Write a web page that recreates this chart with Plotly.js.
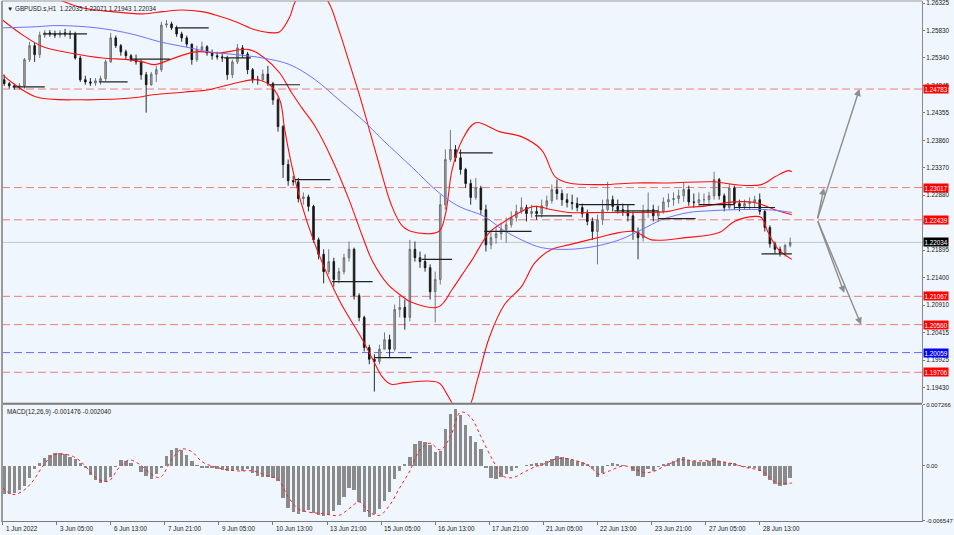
<!DOCTYPE html>
<html><head><meta charset="utf-8">
<script src="https://cdn.plot.ly/plotly-3.0.1.min.js"></script>
<style>html,body{margin:0;padding:0;background:#F0F6FD}#chart{width:954px;height:535px}</style>
</head><body><div id="chart"></div>
<script>
// ---- DATA (3-hour candles) ----
const firstOpen = 1.2495;
const highs = [1.2504,1.2491,1.2488,1.2489,1.2534,1.2563,1.2561,1.2581,1.2584,1.2584,
1.2583,1.2584,1.2586,1.2583,1.2581,1.2538,1.2502,1.2498,1.2498,1.2502,
1.2531,1.2579,1.2574,1.2559,1.2549,1.2541,1.2540,1.2531,1.2509,1.2509,
1.2520,1.2599,1.2602,1.2599,1.2592,1.2581,1.2574,1.2557,1.2556,1.2563,
1.2557,1.2549,1.2545,1.2541,1.2538,1.2531,1.2559,1.2557,1.2545,1.2516,
1.2502,1.2513,1.2520,1.2491,1.2463,1.2414,1.2352,1.2323,1.2319,1.2293,
1.2289,1.2271,1.2212,1.2191,1.2191,1.2176,1.2158,1.2183,1.2205,1.2194,
1.2112,1.2072,1.2020,1.2003,1.2020,1.2042,1.2038,1.2092,1.2108,1.2101,
1.2208,1.2205,1.2187,1.2182,1.2164,1.2151,1.2289,1.2370,1.2405,1.2378,
1.2370,1.2337,1.2316,1.2319,1.2305,1.2271,1.2223,1.2230,1.2237,1.2248,
1.2259,1.2271,1.2284,1.2271,1.2271,1.2269,1.2280,1.2287,1.2307,1.2316,
1.2298,1.2291,1.2289,1.2284,1.2273,1.2262,1.2248,1.2253,1.2280,1.2312,
1.2287,1.2280,1.2273,1.2271,1.2259,1.2230,1.2271,1.2293,1.2271,1.2269,
1.2284,1.2291,1.2293,1.2298,1.2310,1.2305,1.2291,1.2293,1.2291,1.2294,
1.2330,1.2319,1.2291,1.2309,1.2305,1.2280,1.2280,1.2284,1.2287,1.2291,
1.2262,1.2234,1.2205,1.2196,1.2201,1.2212];
const lows = [1.2484,1.2479,1.2477,1.2477,1.2479,1.2527,1.2527,1.2534,1.2570,1.2572,
1.2570,1.2570,1.2572,1.2568,1.2531,1.2491,1.2486,1.2484,1.2484,1.2486,
1.2493,1.2525,1.2552,1.2538,1.2531,1.2527,1.2522,1.2495,1.2436,1.2484,
1.2491,1.2509,1.2588,1.2584,1.2572,1.2563,1.2554,1.2522,1.2527,1.2545,
1.2538,1.2531,1.2531,1.2527,1.2495,1.2498,1.2523,1.2534,1.2505,1.2489,
1.2486,1.2491,1.2484,1.2450,1.2402,1.2319,1.2305,1.2305,1.2275,1.2271,
1.2259,1.2203,1.2173,1.2130,1.2146,1.2124,1.2130,1.2146,1.2169,1.2101,
1.2062,1.2008,1.1985,1.1936,1.1985,1.2012,1.1997,1.2008,1.2069,1.2047,
1.2062,1.2169,1.2158,1.2151,1.2101,1.2060,1.2128,1.2262,1.2348,1.2348,
1.2325,1.2301,1.2271,1.2280,1.2253,1.2187,1.2191,1.2201,1.2208,1.2203,
1.2230,1.2241,1.2255,1.2241,1.2248,1.2244,1.2248,1.2262,1.2273,1.2280,
1.2269,1.2266,1.2262,1.2259,1.2248,1.2234,1.2208,1.2164,1.2235,1.2259,
1.2259,1.2255,1.2251,1.2241,1.2208,1.2173,1.2205,1.2248,1.2241,1.2241,
1.2255,1.2266,1.2269,1.2273,1.2276,1.2269,1.2266,1.2268,1.2269,1.2271,
1.2280,1.2280,1.2259,1.2262,1.2262,1.2259,1.2262,1.2262,1.2266,1.2253,
1.2223,1.2194,1.2183,1.2178,1.2178,1.21943];
const closes = [1.2488,1.2484,1.2482,1.2484,1.2531,1.2556,1.2540,1.2575,1.2579,1.2577,
1.2575,1.2579,1.2577,1.2577,1.2534,1.2495,1.2491,1.2489,1.2493,1.2497,
1.2527,1.2570,1.2556,1.2545,1.2538,1.2531,1.2527,1.2504,1.2486,1.2505,
1.2513,1.2593,1.2595,1.2588,1.2577,1.2570,1.2559,1.2531,1.2549,1.2554,
1.2543,1.2538,1.2536,1.2534,1.2504,1.2527,1.2552,1.2541,1.2513,1.2495,
1.2495,1.2505,1.2488,1.2459,1.2411,1.2343,1.2314,1.2312,1.2282,1.2285,
1.2268,1.2208,1.2182,1.2151,1.2169,1.2137,1.2151,1.2176,1.2191,1.2108,
1.2069,1.2015,1.1994,1.1990,1.2012,1.2029,1.2012,1.2083,1.2087,1.2069,
1.2191,1.2176,1.2169,1.2158,1.2115,1.2137,1.2271,1.2352,1.2370,1.2355,
1.2334,1.2309,1.2284,1.2301,1.2262,1.2199,1.2212,1.2219,1.2226,1.2235,
1.2248,1.2259,1.2266,1.2255,1.2259,1.2255,1.2269,1.2278,1.2298,1.2291,
1.2280,1.2275,1.2273,1.2266,1.2255,1.2241,1.2223,1.2244,1.2262,1.2280,
1.2268,1.2262,1.2259,1.2251,1.2223,1.2212,1.2259,1.2262,1.2251,1.2259,
1.2276,1.2280,1.2282,1.2287,1.2298,1.2276,1.2275,1.2280,1.2280,1.2287,
1.2316,1.2287,1.2266,1.2301,1.2273,1.2268,1.2273,1.2275,1.2280,1.2259,
1.2230,1.2201,1.2191,1.2185,1.2198,1.22034];
const macdHist = [-0.0034,-0.0033,-0.0032,-0.0029,-0.0024,-0.0015,-0.0004,0.0003,0.0009,0.0013,
0.0015,0.0015,0.0014,0.0011,0.0008,0.0004,-0.0002,-0.0011,-0.0017,-0.0020,
-0.0019,-0.0013,-0.0001,0.0007,0.0006,0.0004,0.0000,-0.0007,-0.0012,-0.0016,
-0.0010,-0.0002,0.0012,0.0019,0.0021,0.0019,0.0013,0.0006,0.0001,-0.0002,
-0.0002,-0.0003,-0.0004,-0.0005,-0.0006,-0.0006,-0.0005,-0.0006,-0.0004,-0.0008,
-0.0012,-0.0013,-0.0013,-0.0015,-0.0018,-0.0038,-0.0050,-0.0055,-0.0057,-0.0055,
-0.0053,-0.0056,-0.0059,-0.0060,-0.0059,-0.0054,-0.0047,-0.0037,-0.0026,-0.0029,
-0.0043,-0.0055,-0.0061,-0.0057,-0.0051,-0.0042,-0.0031,-0.0016,-0.0006,0.0002,
0.0011,0.0026,0.0030,0.0028,0.0025,0.0016,0.0018,0.0044,0.0062,0.0068,
0.0061,0.0049,0.0036,0.0028,0.0020,-0.0003,-0.0015,-0.0016,-0.0013,-0.0010,
-0.0006,-0.0003,0.0000,0.0001,0.0002,0.0003,0.0004,0.0006,0.0008,0.0012,
0.0011,0.0009,0.0007,0.0006,0.0005,0.0002,-0.0004,-0.0013,-0.0009,0.0001,
0.0003,0.0002,0.0001,0.0000,-0.0006,-0.0012,-0.0013,-0.0004,-0.0006,-0.0001,
0.0002,0.0004,0.0006,0.0009,0.0010,0.0007,0.0006,0.0005,0.0005,0.0006,
0.0009,0.0006,0.0005,0.0004,0.0003,0.0001,-0.0001,-0.0002,-0.0003,-0.0006,
-0.0012,-0.0017,-0.0022,-0.0024,-0.0023,-0.001476];
const sigIdx = [0,6,12,18,24,30,36,42,48,54,59,63,69,75,81,87,93,100,106,112,118,127,139,148,157,163,169,175,181,190,199,205,211,217,223,229,235,241,247,253,259,265,271,277,283,290,296,302,308,314,320,329,338,347,353,359,368,380,386,392,401,410,422,431,440,449,458,467];
const sigVal = [-0.0026,-0.0034,-0.0030,-0.0018,0.0000,0.0013,0.0014,0.0011,0.0002,-0.0012,-0.0018,-0.0018,-0.0002,0.0007,0.0002,-0.0008,-0.0014,0.0007,0.0020,0.0017,0.0005,-0.0002,-0.0006,-0.0006,-0.0012,-0.0016,-0.0037,-0.0051,-0.0055,-0.0057,-0.0059,-0.0051,-0.0043,-0.0055,-0.0059,-0.0047,-0.0026,-0.0006,0.0019,0.0027,0.0019,0.0035,0.0064,0.0058,0.0035,0.0007,-0.0012,-0.0014,-0.0008,-0.0002,0.0002,0.0009,0.0007,0.0000,-0.0010,-0.0006,0.0000,-0.0008,-0.0006,0.0000,0.0007,0.0006,0.0006,0.0003,-0.0002,-0.0006,-0.0020,-0.00204];
// Bollinger bands and moving average (bar index, price)
const midIdx = [0,12,24,40,59,74,83,90,99,114,128,146,155,164,171,177,185,195,205,213,219,228,235,242,258,266,272,278,288,297,307,315,325,335,355,374,394,404,414,433,445,457,467];
const midVal = [1.2602,1.2575,1.2554,1.2543,1.2534,1.2531,1.2527,1.2522,1.2531,1.2545,1.2543,1.2549,1.2534,1.2507,1.2472,1.2445,1.2411,1.2352,1.2280,1.2214,1.2169,1.2128,1.2110,1.2096,1.2088,1.2119,1.2146,1.2173,1.2221,1.2241,1.2259,1.2268,1.2262,1.2257,1.2257,1.2257,1.2259,1.2266,1.2268,1.2276,1.2275,1.2262,1.2253];
const lowIdx = [0,6,20,47,79,89,108,122,138,150,158,164,167,171,177,185,199,213,219,225,230,238,258,263,269,275,281,288,297,307,315,325,335,355,365,374,384,404,424,433,445,449,453,459,467];
const lowVal = [1.2504,1.2489,1.2464,1.2459,1.2463,1.2468,1.2473,1.2477,1.2489,1.2495,1.2486,1.2459,1.2405,1.2343,1.2271,1.2199,1.2101,1.2029,1.1994,1.1961,1.1949,1.1952,1.1952,1.1931,1.1904,1.1904,1.1958,1.2033,1.2092,1.2124,1.2167,1.2191,1.2199,1.2214,1.2221,1.2223,1.2208,1.2212,1.2221,1.2241,1.2250,1.2248,1.2221,1.2191,1.2173];
const upIdx = [0,18,34,47,65,83,95,106,118,126,138,150,160,164,170,173,177,185,192,199,205,212,222,230,236,242,258,262,266,272,280,294,307,319,327,335,355,374,394,421,433,449,457,465,467];
const upVal = [1.2701,1.2665,1.2638,1.2624,1.2617,1.2613,1.2617,1.2620,1.2617,1.2611,1.2599,1.2584,1.2579,1.2581,1.2608,1.2634,1.2647,1.2652,1.2638,1.2584,1.2527,1.2459,1.2352,1.2271,1.2235,1.2223,1.2223,1.2253,1.2334,1.2387,1.2418,1.2402,1.2393,1.2369,1.2321,1.2310,1.2307,1.2310,1.2310,1.2312,1.2307,1.2307,1.2321,1.2332,1.2330];
const maIdx = [0,20,31,49,65,79,93,111,122,138,154,170,185,199,213,225,242,258,270,285,296,307,319,335,350,365,378,390,406,418,433,453,467];
const maVal = [1.2588,1.2590,1.2592,1.2590,1.2584,1.2575,1.2563,1.2552,1.2545,1.2540,1.2534,1.2522,1.2495,1.2459,1.2423,1.2387,1.2339,1.2293,1.2268,1.2250,1.2226,1.2208,1.2194,1.2191,1.2196,1.2208,1.2226,1.2244,1.2257,1.2260,1.2262,1.2262,1.2257];
// short horizontal black segments
const segStart = [6,24,57,76,102,131,158,173,195,220,248,270,285,315,341,362,388,412,433,449];
const segEnd   = [25,50,74,99,122,147,176,194,219,242,266,290,313,337,374,388,410,433,457,467];
const segPrice = [1.2482,1.2577,1.2491,1.2532,1.2588,1.2534,1.2486,1.2316,1.2133,1.1997,1.2173,1.2364,1.2223,1.2251,1.2271,1.2260,1.2246,1.2271,1.2266,1.2183];
// levels
const redLevels = [1.24783,1.23017,1.22439,1.21067,1.20560,1.19706];
const blueLevels = [1.20059];
const lastPrice = 1.22034;
// projection arrows: start and targets (bar index, price)
const arrowStart = [482, 1.22439];
const arrowMid = [[486, 1.2301],[498, 1.2113]];
const arrowEnd = [[507, 1.24783],[508, 1.20560]];
// axis ticks
const timeTickIdx = [0,32,64,96,128,160,192,224,256,288,320,352,384,416,448];
const timeLabels = ["1 Jun 2022","3 Jun 05:00","6 Jun 13:00","7 Jun 21:00","9 Jun 05:00","10 Jun 13:00","13 Jun 21:00","15 Jun 05:00","16 Jun 13:00","17 Jun 21:00","21 Jun 05:00","22 Jun 13:00","23 Jun 21:00","27 Jun 05:00","28 Jun 13:00"];
const priceTicks = [1.26325,1.25830,1.25340,1.24845,1.24355,1.23860,1.23370,1.22880,1.22385,1.21895,1.21400,1.20910,1.20415,1.19925,1.19430];
const priceTickText = ["1.26325","1.25830","1.25340","1.24845","1.24355","1.23860","1.23370","1.22880","","1.21895","1.21400","1.20910","1.20415","1.19925","1.19430"];
const macdTicks = [0.007266,0,-0.006547];
const macdTickText = ["0.007266","0.00","-0.006547"];
const header = "\u25BC GBPUSD.s,H1  1.22035 1.22071 1.21943 1.22034";
const macdHeader = "MACD(12,26,9) -0.001476 -0.002040";

// ---- BUILD ----
const barX = closes.map((_, k) => 3 * k + 1);
const opens = closes.map((c, k) => k === 0 ? firstOpen : closes[k - 1]);
const hi = highs.map((h, k) => Math.max(h, opens[k], closes[k]));
const lo = lows.map((l, k) => Math.min(l, opens[k], closes[k]));

const FONT = '"Liberation Sans", Arial, sans-serif';
const traces = [];
traces.push({x: upIdx, y: upVal, type:'scatter', mode:'lines', line:{color:'#FF1010', width:1.1, shape:'spline', smoothing:1}, hoverinfo:'skip'});
traces.push({x: midIdx, y: midVal, type:'scatter', mode:'lines', line:{color:'#FF1010', width:1.1, shape:'spline', smoothing:1}, hoverinfo:'skip'});
traces.push({x: lowIdx, y: lowVal, type:'scatter', mode:'lines', line:{color:'#FF1010', width:1.1, shape:'spline', smoothing:1}, hoverinfo:'skip'});
traces.push({x: maIdx, y: maVal, type:'scatter', mode:'lines', line:{color:'#7070FF', width:1, shape:'spline', smoothing:1}, hoverinfo:'skip'});
const sx = [], sy = [];
segStart.forEach((s, i) => { sx.push(s, segEnd[i], null); sy.push(segPrice[i], segPrice[i], null); });
traces.push({x: sx, y: sy, type:'scatter', mode:'lines', line:{color:'#202020', width:1.2}, hoverinfo:'skip', connectgaps:false});
traces.push({x: barX, open: opens, high: hi, low: lo, close: closes, type:'candlestick', xaxis:'x', yaxis:'y',
  increasing:{line:{color:'#6a6a6a', width:0.9}, fillcolor:'#a8a8a8'},
  decreasing:{line:{color:'#151515', width:0.9}, fillcolor:'#151515'},
  whiskerwidth:0, hoverinfo:'skip'});
traces.push({x: barX, y: macdHist, type:'bar', xaxis:'x', yaxis:'y2', width:2, marker:{color:'#8a8a8a', line:{width:0}}, hoverinfo:'skip'});
traces.push({x: sigIdx, y: sigVal, type:'scatter', mode:'lines', xaxis:'x', yaxis:'y2', line:{color:'#FF2020', width:1, dash:'dot', shape:'spline'}, hoverinfo:'skip'});

const shapes = [];
redLevels.forEach(v => shapes.push({type:'line', xref:'paper', x0:0, x1:1, yref:'y', y0:v, y1:v, line:{color:'#F27A7A', width:1, dash:'8px,4px'}, layer:'below'}));
blueLevels.forEach(v => shapes.push({type:'line', xref:'paper', x0:0, x1:1, yref:'y', y0:v, y1:v, line:{color:'#6B6BFF', width:1, dash:'8px,4px'}, layer:'below'}));
shapes.push({type:'line', xref:'paper', x0:0, x1:1, yref:'y', y0:lastPrice, y1:lastPrice, line:{color:'#C4C8CC', width:1}, layer:'below'});
shapes.push({type:'rect', xref:'paper', x0:0, x1:1, yref:'paper', y0:0.2250, y1:0.2290, fillcolor:'#7a7a7a', line:{width:0}});
shapes.push({type:'line', xref:'paper', x0:0, x1:1, yref:'paper', y0:1, y1:1, line:{color:'#9a9a9a', width:1}});
shapes.push({type:'line', xref:'paper', x0:0, x1:0, yref:'paper', y0:0, y1:1, line:{color:'#9a9a9a', width:2}});

const annotations = [];
const boxLabel = (v, bg) => annotations.push({xref:'paper', x:1, xanchor:'left', xshift:1, yref:'y', y:v, yanchor:'middle', text:v.toFixed(5), showarrow:false, bgcolor:bg, borderpad:0.5, font:{family:FONT, size:6.3, color:'#ffffff'}});
redLevels.forEach(v => boxLabel(v, '#FF0000'));
blueLevels.forEach(v => boxLabel(v, '#0000FF'));
boxLabel(lastPrice, '#000000');
timeTickIdx.forEach((t, i) => annotations.push({xref:'x', x:t, xanchor:'left', xshift:1, yref:'paper', y:0, yanchor:'top', yshift:-1, text:timeLabels[i], showarrow:false, font:{family:FONT, size:6.3, color:'#1a1a1a'}}));
annotations.push({xref:'paper', x:0, xanchor:'left', xshift:3, yref:'paper', y:1, yanchor:'top', yshift:-2, text:header, showarrow:false, font:{family:FONT, size:6.3, color:'#1a1a1a'}});
annotations.push({xref:'paper', x:0, xanchor:'left', xshift:3, yref:'paper', y:0.2246, yanchor:'top', yshift:-1, text:macdHeader, showarrow:false, font:{family:FONT, size:6.3, color:'#1a1a1a'}});
arrowEnd.forEach((e, i) => {
  annotations.push({xref:'x', yref:'y', axref:'x', ayref:'y', x:e[0], y:e[1], ax:arrowStart[0], ay:arrowStart[1], showarrow:true, arrowhead:2, arrowsize:1, arrowwidth:1.4, arrowcolor:'#8e8e8e', text:''});
  annotations.push({xref:'x', yref:'y', axref:'x', ayref:'y', x:arrowMid[i][0], y:arrowMid[i][1], ax:arrowStart[0], ay:arrowStart[1], showarrow:true, arrowhead:2, arrowsize:1, arrowwidth:1.4, arrowcolor:'#8e8e8e', text:''});
});

const layout = {
  width:954, height:535,
  margin:{l:2, r:32, t:1, b:13},
  paper_bgcolor:'#F0F6FD', plot_bgcolor:'#F0F6FD',
  showlegend:false, bargap:0, boxgap:0.55,
  font:{family:FONT, size:6.3, color:'#1a1a1a'},
  xaxis:{domain:[0,1], anchor:'y2', range:[-0.3,544], showgrid:false, zeroline:false,
    tickmode:'array', tickvals:timeTickIdx, ticktext:timeTickIdx.map(()=>''), ticks:'outside', ticklen:3, tickcolor:'#7a7a7a',
    showticklabels:false, showline:true, linecolor:'#7a7a7a', linewidth:1, rangeslider:{visible:false}, fixedrange:true},
  yaxis:{domain:[0.2290,1], anchor:'x', side:'right', range:[1.19161,1.26361], tickmode:'array', tickvals:priceTicks,
    ticktext:priceTickText, ticks:'outside', ticklen:2, tickcolor:'#7a7a7a', showgrid:false, zeroline:false,
    showline:true, linecolor:'#8a8a8a', linewidth:1, tickfont:{family:FONT, size:6.3, color:'#1a1a1a'},
    ticklabeloverflow:'allow', fixedrange:true},
  yaxis2:{domain:[0.002,0.2250], anchor:'x', side:'right', range:[-0.00656,0.00728], tickmode:'array', tickvals:macdTicks,
    ticktext:macdTickText, ticks:'outside', ticklen:2, tickcolor:'#7a7a7a', showgrid:false, zeroline:false,
    showline:true, linecolor:'#8a8a8a', linewidth:1, tickfont:{family:FONT, size:5.9, color:'#1a1a1a'},
    ticklabeloverflow:'allow', fixedrange:true},
  shapes: shapes,
  annotations: annotations
};
Plotly.newPlot('chart', traces, layout, {staticPlot:true, displayModeBar:false});
</script></body></html>
